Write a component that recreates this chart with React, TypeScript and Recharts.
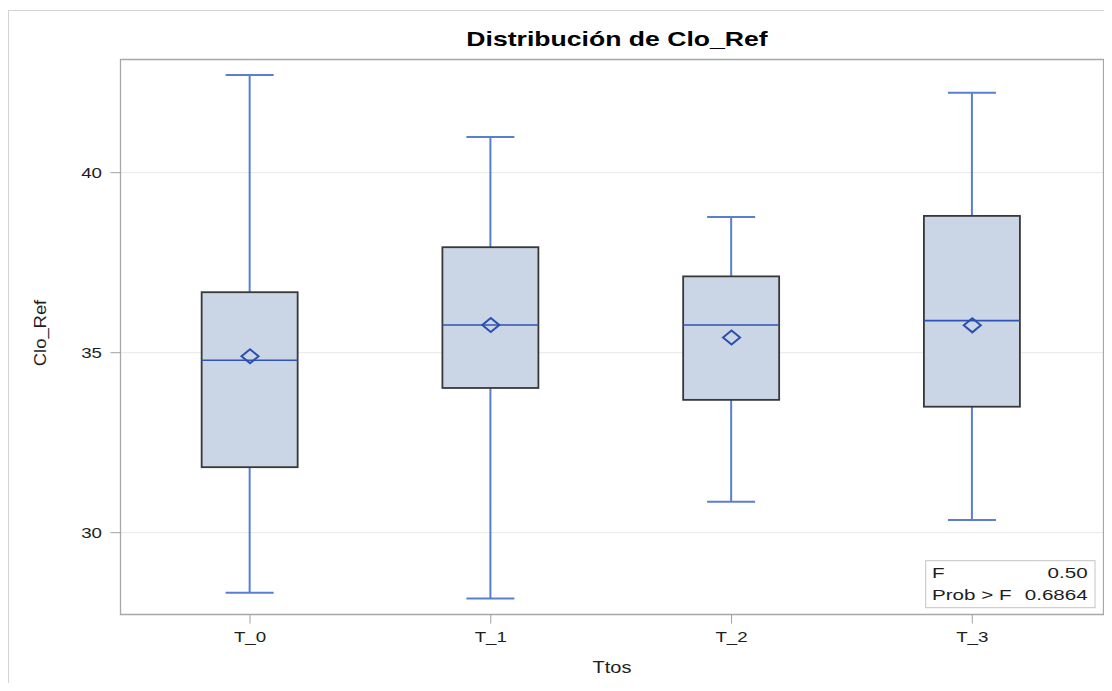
import React from 'react';
import {
  ComposedChart,
  Bar,
  Scatter,
  XAxis,
  YAxis,
  CartesianGrid,
  ReferenceArea,
  Label,
} from 'recharts';

// Box-plot summary per treatment group
const categories = ['T_0', 'T_1', 'T_2', 'T_3'];
const mins = [28.33, 28.17, 30.86, 30.35];
const q1s = [31.82, 34.02, 33.69, 33.5];
const medians = [34.79, 35.77, 35.77, 35.89];
const means = [34.9, 35.77, 35.42, 35.76];
const q3s = [36.68, 37.93, 37.12, 38.8];
const maxs = [42.71, 40.99, 38.77, 42.22];

const yTicks = [30, 35, 40];
const yDomain: [number, number] = [27.728, 43.144];
const xDomain: [number, number] = [-0.538, 3.545];

const statNames = ['F', 'Prob > F'];
const statValues = ['0.50', '0.6864'];

const chartTitle = 'Distribución de Clo_Ref';
const xTitle = 'Ttos';
const yTitle = 'Clo_Ref';

const rows = categories.map((c, i) => ({
  x: i,
  name: c,
  range: [mins[i], maxs[i]],
  min: mins[i],
  q1: q1s[i],
  median: medians[i],
  mean: means[i],
  q3: q3s[i],
  max: maxs[i],
}));

const FONT = '"Liberation Sans", Arial, sans-serif';
const SX = 1.25;

const BOX_FILL = '#cad5e6';
const BOX_EDGE = '#383838';
const WHISKER = '#5a7ed2';
const MEDIAN = '#2f54b2';
const MEAN = '#2b4fae';

function WideText(props: {
  x: number;
  y: number;
  anchor?: 'start' | 'middle' | 'end';
  size?: number;
  weight?: string | number;
  fill?: string;
  dy?: string;
  sx?: number;
  rotate?: number;
  children: React.ReactNode;
}) {
  const {
    x,
    y,
    anchor = 'middle',
    size = 15,
    weight = 'normal',
    fill = '#1e1e1e',
    dy,
    sx = SX,
    rotate,
    children,
  } = props;
  const tf = `translate(${x},${y})${rotate ? ` rotate(${rotate})` : ''} scale(${sx},1)`;
  return (
    <text
      transform={tf}
      textAnchor={anchor}
      fontSize={size}
      fontWeight={weight}
      fontFamily={FONT}
      fill={fill}
      dy={dy}
    >
      {children}
    </text>
  );
}

// Whiskers, box and median line; inner values mapped linearly between the bar's max/min pixels
function BoxShape(props: any) {
  const { x, y, width, height, payload } = props;
  if (!payload) return null;
  const top = Math.min(y, y + height);
  const bot = Math.max(y, y + height);
  const span = payload.max - payload.min;
  const py = (v: number) => top + ((bot - top) * (payload.max - v)) / span;
  const cx = x + width / 2;
  const halfBox = 48;
  const halfCap = 24;
  const yMax = py(payload.max);
  const yMin = py(payload.min);
  const yQ3 = py(payload.q3);
  const yQ1 = py(payload.q1);
  const yMed = py(payload.median);
  return (
    <g>
      <line x1={cx} y1={yMax} x2={cx} y2={yQ3} stroke={WHISKER} strokeWidth={2} />
      <line x1={cx - halfCap} y1={yMax} x2={cx + halfCap} y2={yMax} stroke={WHISKER} strokeWidth={2} />
      <line x1={cx} y1={yQ1} x2={cx} y2={yMin} stroke={WHISKER} strokeWidth={2} />
      <line x1={cx - halfCap} y1={yMin} x2={cx + halfCap} y2={yMin} stroke={WHISKER} strokeWidth={2} />
      <rect
        x={cx - halfBox}
        y={yQ3}
        width={halfBox * 2}
        height={yQ1 - yQ3}
        fill={BOX_FILL}
        stroke={BOX_EDGE}
        strokeWidth={1.8}
      />
      <line x1={cx - halfBox} y1={yMed} x2={cx + halfBox} y2={yMed} stroke={MEDIAN} strokeWidth={1.6} />
    </g>
  );
}

function MeanDiamond(props: any) {
  const { cx, cy } = props;
  const w = 8.5;
  const h = 7;
  return (
    <polygon
      points={`${cx},${cy - h} ${cx + w},${cy} ${cx},${cy + h} ${cx - w},${cy}`}
      fill="none"
      stroke={MEAN}
      strokeWidth={2}
    />
  );
}

function YTick(props: any) {
  const { x, y, payload } = props;
  return (
    <WideText x={x} y={y} anchor="end" dy="0.36em" size={15}>
      {payload.value}
    </WideText>
  );
}

function XTick(props: any) {
  const { x, y, payload } = props;
  return (
    <WideText x={x} y={y} anchor="middle" dy="0.71em" size={15}>
      {categories[payload.value]}
    </WideText>
  );
}

function XTitle(props: any) {
  const vb = props.viewBox || {};
  return (
    <WideText x={vb.x + vb.width / 2} y={vb.y + 58} size={16}>
      {xTitle}
    </WideText>
  );
}

function YTitle(props: any) {
  const vb = props.viewBox || {};
  return (
    <WideText x={vb.x - 14.5} y={vb.y + vb.height / 2 - 4} size={16} rotate={-90} sx={1.15}>
      {yTitle}
    </WideText>
  );
}

// Chart title above the plot frame and the F-test inset in its lower-right corner
function FrameDecor(props: any) {
  const vb = props.viewBox || {};
  const right = vb.x + vb.width;
  const bottom = vb.y + vb.height;
  const boxW = 169.3;
  const boxH = 47;
  const bx = right - 8.5 - boxW;
  const by = bottom - 6.8 - boxH;
  return (
    <g>
      <WideText x={vb.x + vb.width / 2 + 5} y={vb.y - 14} size={20} weight="bold" fill="#000" sx={1.33}>
        {chartTitle}
      </WideText>
      <rect x={bx} y={by} width={boxW} height={boxH} fill="#fff" stroke="#c4c4c4" strokeWidth={1} />
      {statNames.map((n, i) => (
        <WideText key={`n${i}`} x={bx + 6.3} y={by + 17 + i * 22.3} anchor="start" size={15.5} sx={1.33}>
          {n}
        </WideText>
      ))}
      {statValues.map((v, i) => (
        <WideText key={`v${i}`} x={bx + boxW - 7.3} y={by + 17 + i * 22.3} anchor="end" size={15.5} sx={1.33}>
          {v}
        </WideText>
      ))}
    </g>
  );
}

export default function App() {
  return (
    <div
      style={{
        position: 'relative',
        width: 1104,
        height: 683,
        marginBottom: -8,
        overflow: 'hidden',
        fontFamily: FONT,
        background: '#fff',
      }}
    >
      <div
        style={{
          position: 'absolute',
          left: 0,
          top: 2,
          width: 1300,
          height: 900,
          border: '1px solid #d4d4d4',
        }}
      />
      <div style={{ position: 'absolute', left: 0, top: 0 }}>
        <ComposedChart
          width={1104}
          height={683}
          data={rows}
          margin={{ top: 51.5, right: 8.5, left: 52.5, bottom: 36.5 }}
        >
          <CartesianGrid horizontal vertical={false} stroke="#e8e8e8" strokeWidth={1} />
          <XAxis
            dataKey="x"
            type="number"
            domain={xDomain}
            ticks={[0, 1, 2, 3]}
            allowDataOverflow
            axisLine={false}
            tickLine={{ stroke: '#a0a0a0' }}
            tickSize={9}
            tickMargin={8}
            height={40}
            tick={<XTick />}
            interval={0}
          >
            <Label content={<XTitle />} />
          </XAxis>
          <YAxis
            type="number"
            domain={yDomain}
            ticks={yTicks}
            allowDataOverflow
            axisLine={false}
            tickLine={{ stroke: '#a0a0a0' }}
            tickSize={10}
            tickMargin={8.5}
            width={60}
            tick={<YTick />}
            interval={0}
          >
            <Label content={<YTitle />} />
          </YAxis>
          <ReferenceArea
            x1={xDomain[0]}
            x2={xDomain[1]}
            y1={yDomain[0]}
            y2={yDomain[1]}
            fill="none"
            fillOpacity={0}
            stroke="#a4a8ac"
            strokeWidth={1.3}
            ifOverflow="visible"
            label={<FrameDecor />}
          />
          <Bar dataKey="range" barSize={96} shape={<BoxShape />} isAnimationActive={false} />
          <Scatter dataKey="mean" shape={<MeanDiamond />} isAnimationActive={false} />
        </ComposedChart>
      </div>
    </div>
  );
}
